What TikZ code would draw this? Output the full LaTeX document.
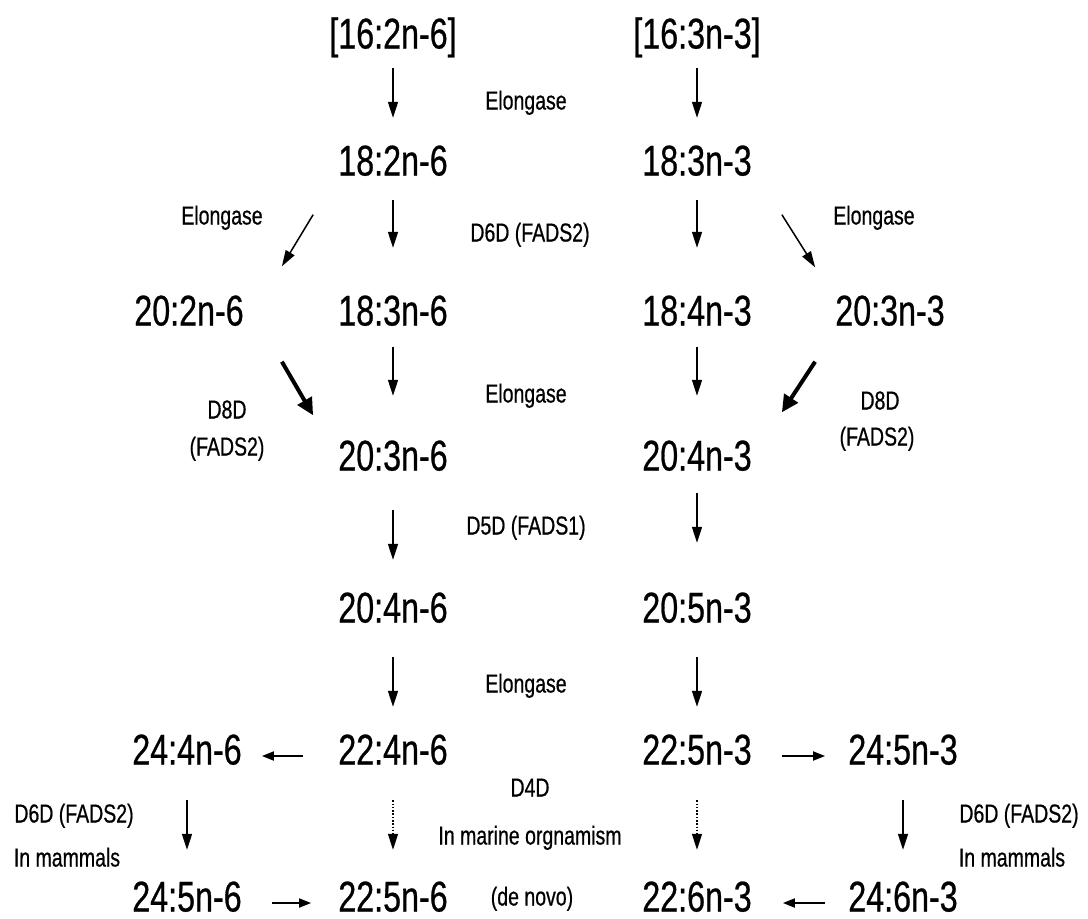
\documentclass[tikz,border=0pt]{standalone}
\usepackage{fontspec}
\setmainfont[FakeStretch=0.75, FakeBold=0.6]{Liberation Sans}
\usetikzlibrary{arrows.meta}

\begin{document}
\begin{tikzpicture}[x=1pt, y=-1pt,
  fa/.style={font=\fontsize{43}{43}\selectfont, inner sep=0pt, text height=31pt, text depth=0pt},
  enz/.style={font=\fontsize{26}{26}\selectfont, inner sep=0pt, text height=19pt, text depth=0pt},
  flow/.style={-{Triangle[width=10pt,length=16pt]}, line width=1.5pt},
  hflow/.style={-{Triangle[width=9pt,length=12pt]}, line width=1.8pt},
  bflow/.style={-{Triangle[width=16pt,length=17pt]}, line width=4pt},
  dflow/.style={-{Triangle[width=10pt,length=16pt]}, line width=1.3pt, dash pattern=on 1.5pt off 1.8pt}]
  \useasboundingbox (0,0) rectangle (1088,919);

  % n-6 series
  \node[fa] (c162n6) at (393,33)  {[16:2n-6]};
  \node[fa] (c182n6) at (393,160) {18:2n-6};
  \node[fa] (c202n6) at (189,310) {20:2n-6};
  \node[fa] (c183n6) at (393,310) {18:3n-6};
  \node[fa] (c203n6) at (393,455) {20:3n-6};
  \node[fa] (c204n6) at (393,607) {20:4n-6};
  \node[fa] (c224n6) at (393,749) {22:4n-6};
  \node[fa] (c244n6) at (187,749) {24:4n-6};
  \node[fa] (c245n6) at (187,896) {24:5n-6};
  \node[fa] (c225n6) at (393,896) {22:5n-6};

  % n-3 series
  \node[fa] (c163n3) at (697,33)  {[16:3n-3]};
  \node[fa] (c183n3) at (697,160) {18:3n-3};
  \node[fa] (c184n3) at (697,310) {18:4n-3};
  \node[fa] (c203n3) at (890,310) {20:3n-3};
  \node[fa] (c204n3) at (697,455) {20:4n-3};
  \node[fa] (c205n3) at (697,607) {20:5n-3};
  \node[fa] (c225n3) at (697,749) {22:5n-3};
  \node[fa] (c245n3) at (903,749) {24:5n-3};
  \node[fa] (c246n3) at (903,896) {24:6n-3};
  \node[fa] (c226n3) at (697,896) {22:6n-3};

  % enzymes
  \node[enz] (elo1) at (526,100) {Elongase};
  \node[enz] (elo2) at (222,215) {Elongase};
  \node[enz] (elo3) at (874,215) {Elongase};
  \node[enz] (d6d)  at (530,232) {D6D (FADS2)};
  \node[enz] (elo4) at (526,393) {Elongase};
  \node[enz] (d8dl) at (227,409) {D8D};
  \node[enz] (f2l)  at (227,446) {(FADS2)};
  \node[enz] (d8dr) at (880,400) {D8D};
  \node[enz] (f2r)  at (877,436) {(FADS2)};
  \node[enz] (d5d)  at (526,525) {D5D (FADS1)};
  \node[enz] (elo5) at (526,683) {Elongase};
  \node[enz] (d4d)  at (530,787) {D4D};
  \node[enz] (mar)  at (530,835) {In marine orgnamism};
  \node[enz] (nov)  at (532,896) {(de novo)};
  \node[enz] (d6dl) at (74,813)   {D6D (FADS2)};
  \node[enz] (maml) at (67,857)   {In mammals};
  \node[enz] (d6dr) at (1019,813) {D6D (FADS2)};
  \node[enz] (mamr) at (1012,857) {In mammals};

  % vertical steps
  \draw[flow, shorten <=19.5pt, shorten >=26.5pt] (c162n6.south) -- (c182n6.north);
  \draw[flow, shorten <=19.5pt, shorten >=26.5pt] (c163n3.south) -- (c183n3.north);
  \draw[flow, shorten <=24.5pt, shorten >=46.5pt] (c182n6.south) -- (c183n6.north);
  \draw[flow, shorten <=24.5pt, shorten >=46.5pt] (c183n3.south) -- (c184n3.north);
  \draw[flow, shorten <=21.5pt, shorten >=43.5pt] (c183n6.south) -- (c203n6.north);
  \draw[flow, shorten <=21.5pt, shorten >=43.5pt] (c184n3.south) -- (c204n3.north);
  \draw[flow, shorten <=39.5pt, shorten >=31.5pt] (c203n6.south) -- (c204n6.north);
  \draw[flow, shorten <=22.5pt, shorten >=48.5pt] (c204n3.south) -- (c205n3.north);
  \draw[flow, shorten <=34.5pt, shorten >=26.5pt] (c204n6.south) -- (c224n6.north);
  \draw[flow, shorten <=34.5pt, shorten >=26.5pt] (c205n3.south) -- (c225n3.north);
  \draw[dflow, shorten <=35.5pt, shorten >=30.5pt] (c224n6.south) -- (c225n6.north);
  \draw[dflow, shorten <=35.5pt, shorten >=30.5pt] (c225n3.south) -- (c226n3.north);
  \draw[flow, shorten <=35.5pt, shorten >=30.5pt] (c244n6.south) -- (c245n6.north);
  \draw[flow, shorten <=35.5pt, shorten >=30.5pt] (c245n3.south) -- (c246n3.north);

  % side branches
  \draw[flow] ([shift={(-25,39)}]c182n6.south west) -- ([shift={(38,-28)}]c202n6.north east);
  \draw[flow] ([shift={(30,39)}]c183n3.south east) -- ([shift={(-20,-27)}]c203n3.north west);
  \draw[bflow] ([shift={(38,36)}]c202n6.south east) -- ([shift={(-25,-24)}]c203n6.north west);
  \draw[bflow] ([shift={(-20,36)}]c203n3.south west) -- ([shift={(30,-27)}]c204n3.north east);

  % horizontal steps
  \draw[hflow, shorten <=35pt, shorten >=20pt] ([yshift=-7pt]c224n6.west) -- ([yshift=-7pt]c244n6.east);
  \draw[hflow, shorten <=30pt, shorten >=27pt] ([yshift=-7pt]c245n6.east) -- ([yshift=-7pt]c225n6.west);
  \draw[hflow, shorten <=30pt, shorten >=23pt] ([yshift=-7pt]c225n3.east) -- ([yshift=-7pt]c245n3.west);
  \draw[hflow, shorten <=23pt, shorten >=31pt] ([yshift=-7pt]c246n3.west) -- ([yshift=-7pt]c226n3.east);
\end{tikzpicture}
\end{document}
